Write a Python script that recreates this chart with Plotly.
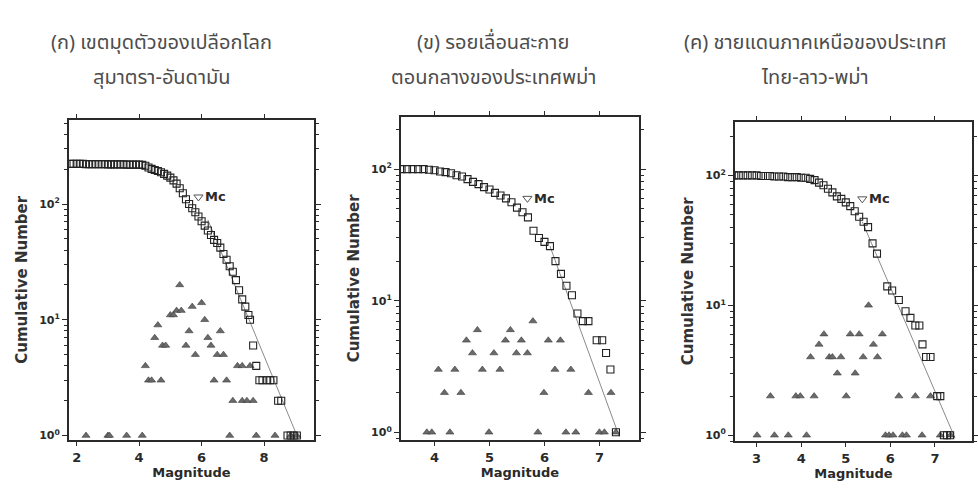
import math
import plotly.graph_objects as go

# ---------------- (ก) Sumatra-Andaman subduction zone ----------------
sa_cum_mag = [1.8, 1.9, 2.0, 2.1, 2.2, 2.3, 2.4, 2.5, 2.6, 2.7, 2.8, 2.9, 3.0, 3.1,
              3.2, 3.3, 3.4, 3.5, 3.6, 3.7, 3.8, 3.9, 4.0, 4.1, 4.2, 4.3, 4.4, 4.5,
              4.6, 4.7, 4.8, 4.9, 5.0, 5.1, 5.2, 5.3, 5.4, 5.5, 5.6, 5.7, 5.8, 5.9,
              6.0, 6.1, 6.2, 6.3, 6.4, 6.5, 6.6, 6.7, 6.8, 6.9, 7.0, 7.1, 7.2, 7.3,
              7.4, 7.5, 7.55, 7.65, 7.75, 7.85, 7.95, 8.1, 8.2, 8.3, 8.45, 8.55,
              8.75, 8.85, 8.95, 9.05]
sa_cum_n = [222, 222, 222, 222, 222, 221, 221, 221, 221, 221, 221, 221, 220, 220,
            220, 220, 220, 220, 219, 219, 219, 219, 219, 218, 214, 207, 201, 197,
            193, 188, 182, 176, 169, 160, 150, 137, 124, 110, 100, 92, 85, 78,
            71, 65, 59, 54, 49, 46, 42, 37, 33, 29, 26, 22, 18, 15,
            13, 11, 10, 6, 4, 3, 3, 3, 3, 3, 2, 2,
            1, 1, 1, 1]
sa_inc_mag = [2.3, 3.0, 3.05, 3.6, 4.1, 4.2, 4.3, 4.4, 4.5, 4.6, 4.7, 4.75, 4.85,
              5.0, 5.1, 5.2, 5.3, 5.35, 5.5, 5.6, 5.7, 5.8, 6.0, 6.1, 6.2, 6.3,
              6.4, 6.5, 6.6, 6.7, 6.8, 6.9, 7.0, 7.15, 7.3, 7.3, 7.45, 7.55, 7.65,
              7.75, 8.35, 8.85, 9.05]
sa_inc_n = [1, 1, 1, 1, 1, 4, 3, 3, 7, 9, 3, 6, 6,
            11, 11, 12, 20, 12, 6, 8, 13, 5, 14, 10, 7, 6,
            3, 5, 8, 5, 3, 1, 2, 4, 4, 2, 2, 4, 2,
            1, 1, 1, 1]
sa_mc, sa_mc_n = 5.9, 115
sa_fit_mag = [6.2, 9.1]
sa_fit_n = [73, 0.93]

# ---------------- (ข) central Sagaing fault ----------------
sg_cum_mag = [3.4, 3.5, 3.6, 3.7, 3.8, 3.9, 4.0, 4.1, 4.2, 4.3, 4.4, 4.5, 4.6, 4.7,
              4.8, 4.9, 5.0, 5.1, 5.2, 5.3, 5.4, 5.5, 5.6, 5.7, 5.8, 5.9, 6.0, 6.1,
              6.2, 6.3, 6.4, 6.5, 6.6, 6.7, 6.8, 6.95, 7.05, 7.12, 7.2, 7.3]
sg_cum_n = [100, 100, 100, 100, 100, 99, 98, 96, 95, 93, 90, 88, 84, 80,
            77, 73, 70, 66, 63, 60, 56, 51, 47, 43, 34, 30, 28, 26,
            20, 16, 13, 11, 8, 7, 7, 5, 5, 4, 3, 1]
sg_inc_mag = [3.86, 3.95, 4.28, 4.99, 5.88, 6.39, 6.57, 7.0, 7.09, 7.3,
              4.18, 4.48, 5.99, 6.8, 7.21,
              4.07, 4.37, 4.87, 5.19, 6.19, 6.48,
              4.69, 5.08, 5.49, 5.69,
              4.58, 5.29, 5.58, 6.07, 6.29,
              4.78, 5.38,
              5.79]
sg_inc_n = [1, 1, 1, 1, 1, 1, 1, 1, 1, 1,
            2, 2, 2, 2, 2,
            3, 3, 3, 3, 3, 3,
            4, 4, 4, 4,
            5, 5, 5, 5, 5,
            6, 6,
            7]
sg_mc, sg_mc_n = 5.69, 60
sg_fit_mag = [6.1, 7.36]
sg_fit_n = [26, 0.93]

# ---------------- (ค) northern Thailand-Laos-Myanmar border ----------------
tl_cum_mag = [2.5, 2.6, 2.7, 2.8, 2.9, 3.0, 3.1, 3.2, 3.3, 3.4, 3.5, 3.6, 3.7, 3.8,
              3.9, 4.0, 4.1, 4.2, 4.3, 4.4, 4.5, 4.6, 4.7, 4.8, 4.9, 5.0, 5.1, 5.2,
              5.3, 5.4, 5.5, 5.6, 5.7, 5.93, 6.04, 6.19, 6.34, 6.45, 6.56, 6.65,
              6.72, 6.8, 6.9, 7.05, 7.12, 7.2, 7.27, 7.34]
tl_cum_n = [100, 100, 100, 100, 100, 100, 99, 99, 99, 98, 98, 98, 97, 97,
            97, 96, 96, 94, 92, 88, 84, 79, 74, 69, 66, 62, 58, 53,
            48, 44, 40, 30, 25, 14, 13, 11, 9, 8, 7, 7,
            5, 4, 4, 2, 2, 1, 1, 1]
tl_inc_mag = [3.01, 3.40, 3.71, 4.12, 5.89, 5.97, 6.06, 6.27, 6.36, 6.71, 7.12, 7.35,
              3.31, 3.88, 3.98, 4.29, 5.01, 6.19, 6.56, 6.90,
              4.81, 5.21,
              4.21, 4.63, 4.70, 4.89, 5.39, 5.71,
              4.40, 5.62,
              4.51, 5.10, 5.30, 5.82,
              5.51]
tl_inc_n = [1, 1, 1, 1, 1, 1, 1, 1, 1, 1, 1, 1,
            2, 2, 2, 2, 2, 2, 2, 2,
            3, 3,
            4, 4, 4, 4, 4, 4,
            5, 5,
            6, 6, 6, 6,
            10]
tl_mc, tl_mc_n = 5.37, 66
tl_fit_mag = [5.37, 7.45]
tl_fit_n = [44, 0.95]

panel_titles = [
    ("(ก) เขตมุดตัวของเปลือกโลก", "สุมาตรา-อันดามัน"),
    ("(ข) รอยเลื่อนสะกาย", "ตอนกลางของประเทศพม่า"),
    ("(ค) ชายแดนภาคเหนือของประเทศ", "ไทย-ลาว-พม่า"),
]
x_label = "Magnitude"
y_label = "Cumulative Number"
mc_label = "Mc"
y_tick_vals = [1, 10, 100]
y_tick_text = ["10<sup>0</sup>", "10<sup>1</sup>", "10<sup>2</sup>"]

panels = [
    dict(cum_mag=sa_cum_mag, cum_n=sa_cum_n, inc_mag=sa_inc_mag, inc_n=sa_inc_n,
         mc=sa_mc, mc_n=sa_mc_n, fit_mag=sa_fit_mag, fit_n=sa_fit_n,
         xdom=[0.0706, 0.3221], ydom=[0.0943, 0.7541],
         xrange=[1.75, 9.6], yrange=[-0.04, 2.73], dtick=2, title_x=162),
    dict(cum_mag=sg_cum_mag, cum_n=sg_cum_n, inc_mag=sg_inc_mag, inc_n=sg_inc_n,
         mc=sg_mc, mc_n=sg_mc_n, fit_mag=sg_fit_mag, fit_n=sg_fit_n,
         xdom=[0.4110, 0.6554], ydom=[0.0943, 0.7602],
         xrange=[3.385, 7.72], yrange=[-0.06, 2.40], dtick=1, title_x=495),
    dict(cum_mag=tl_cum_mag, cum_n=tl_cum_n, inc_mag=tl_inc_mag, inc_n=tl_inc_n,
         mc=tl_mc, mc_n=tl_mc_n, fit_mag=tl_fit_mag, fit_n=tl_fit_n,
         xdom=[0.7536, 0.9969], ydom=[0.0922, 0.7500],
         xrange=[2.51, 7.83], yrange=[-0.046, 2.415], dtick=1, title_x=818),
]

W, H = 978, 488
ink = "#2a2a2a"
sans = "DejaVu Sans, Liberation Sans, Arial, sans-serif"
thai = "Noto Sans Thai, Loma, Garuda, Tahoma, sans-serif"
xtick_font = dict(family=sans, size=13, color=ink, weight="bold")
ytick_font = dict(family=sans, size=11, color=ink, weight="bold")
xlab_font = dict(family=sans, size=13, color=ink, weight="bold")
ylab_font = dict(family=sans, size=15, color="#333333", weight="bold")
mc_font = dict(family=sans, size=13, color=ink, weight="bold")
title_font = dict(family=thai, size=20, color="#4d4d4d")

fig = go.Figure()
layout = dict(
    width=W, height=H,
    margin=dict(l=0, r=0, t=0, b=0),
    paper_bgcolor="white", plot_bgcolor="white",
    showlegend=False,
    annotations=[],
)

for i, p in enumerate(panels, start=1):
    xa = "x" if i == 1 else f"x{i}"
    ya = "y" if i == 1 else f"y{i}"
    # fitted Gutenberg-Richter line
    fig.add_trace(go.Scatter(x=p["fit_mag"], y=p["fit_n"], mode="lines",
                             line=dict(color="#8a8a8a", width=1),
                             xaxis=xa, yaxis=ya, hoverinfo="skip"))
    # non-cumulative counts
    fig.add_trace(go.Scatter(x=p["inc_mag"], y=p["inc_n"], mode="markers",
                             marker=dict(symbol="triangle-up", size=7, color="#6a6a6a",
                                         line=dict(color="#3a3a3a", width=0.6)),
                             xaxis=xa, yaxis=ya))
    # cumulative counts
    fig.add_trace(go.Scatter(x=p["cum_mag"], y=p["cum_n"], mode="markers",
                             marker=dict(symbol="square-open", size=7, color="#222222",
                                         line=dict(width=1.1)),
                             xaxis=xa, yaxis=ya))
    # magnitude of completeness
    fig.add_trace(go.Scatter(x=[p["mc"]], y=[p["mc_n"]], mode="markers",
                             marker=dict(symbol="triangle-down-open", size=8, color="#555555",
                                         line=dict(width=1)),
                             xaxis=xa, yaxis=ya))

    xkey = "xaxis" if i == 1 else f"xaxis{i}"
    ykey = "yaxis" if i == 1 else f"yaxis{i}"
    layout[xkey] = dict(
        domain=p["xdom"], anchor=ya, range=p["xrange"],
        dtick=p["dtick"], tick0=0, ticks="outside", ticklen=4, tickwidth=1,
        tickcolor=ink, showline=True, linecolor=ink, linewidth=1.5, mirror="ticks",
        showgrid=False, zeroline=False, tickfont=xtick_font,
        title=dict(text=x_label, font=xlab_font, standoff=1),
    )
    layout[ykey] = dict(
        domain=p["ydom"], anchor=xa, type="log", range=p["yrange"],
        tickmode="array", tickvals=y_tick_vals, ticktext=y_tick_text,
        ticks="outside", ticklen=5, tickwidth=1, tickcolor=ink,
        minor=dict(ticks="outside", ticklen=3, tickcolor=ink, dtick="D1", showgrid=False),
        showline=True, linecolor=ink, linewidth=1.5, mirror="ticks",
        showgrid=False, zeroline=False, tickfont=ytick_font,
        title=dict(text=y_label, font=ylab_font, standoff=8),
    )
    # annotations on a log axis take log10 coordinates
    layout["annotations"].append(dict(
        x=p["mc"], y=math.log10(p["mc_n"]), xref=xa, yref=ya, text=mc_label,
        showarrow=False, xanchor="left", yanchor="middle", xshift=5, font=mc_font,
    ))
    line1, line2 = panel_titles[i - 1]
    for text, ypx in ((line1, 43), (line2, 78)):
        layout["annotations"].append(dict(
            x=p["title_x"] / W, y=1 - ypx / H, xref="paper", yref="paper",
            text=text, showarrow=False, xanchor="center", yanchor="middle",
            font=title_font,
        ))

fig.update_layout(**layout)
fig.write_html("out.html")
